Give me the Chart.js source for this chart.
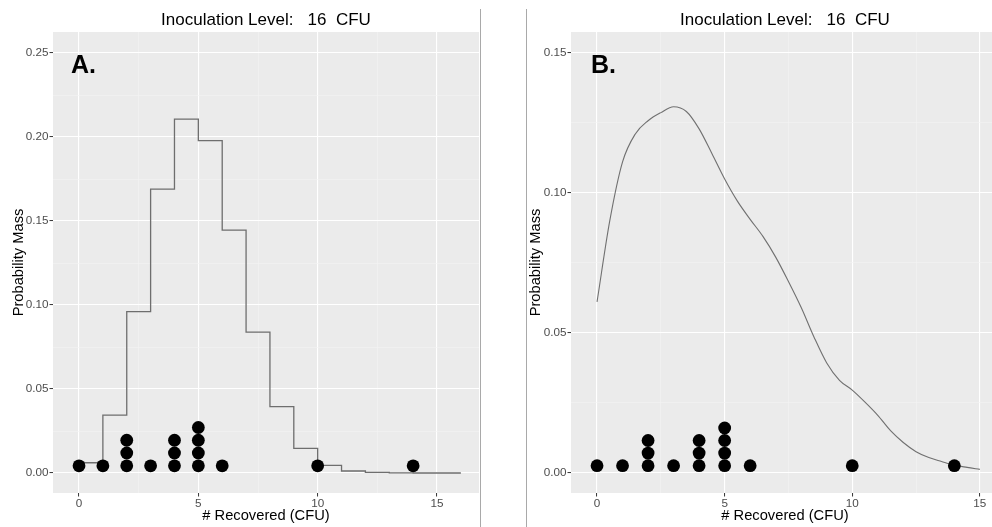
<!DOCTYPE html>
<html>
<head>
<meta charset="utf-8">
<script src="https://cdn.jsdelivr.net/npm/chart.js@4.4.1/dist/chart.umd.min.js"></script>
<style>
  html, body { margin: 0; padding: 0; width: 992px; height: 527px; overflow: hidden; background: #fff; }
  canvas { position: absolute; top: 0; }
  .sep { position: absolute; top: 9px; width: 1px; height: 518px; background: #a9a9a9; }
  .tag { position: absolute; top: 52px; font: bold 25px/25px 'Liberation Sans', Arial, sans-serif; color: #000; }
</style>
</head>
<body>
<canvas id="chartA" width="480" height="527" style="left:0"></canvas>
<canvas id="chartB" width="472" height="527" style="left:527px"></canvas>
<div class="sep" style="left:480px"></div>
<div class="sep" style="left:526px"></div>
<div class="tag" style="left:71px">A.</div>
<div class="tag" style="left:591px">B.</div>
<script>
// values
const titleText = 'Inoculation Level:   16  CFU';
const xTitle = '# Recovered (CFU)';
const yTitle = 'Probability Mass';

// observed recoveries (one dot each)
const recovered = [0, 1, 2, 2, 2, 3, 4, 4, 4, 5, 5, 5, 5, 6, 10, 14];

// panel A: step probability mass
const stepX = [0, 1, 2, 3, 4, 5, 6, 7, 8, 9, 10, 11, 12, 13, 14, 15, 16];
const stepMass = [0.0061, 0.0345, 0.096, 0.169, 0.2107, 0.1978, 0.1446, 0.0839, 0.0395, 0.0147,
                  0.0046, 0.0012, 0.0004, 0.0001, 0, 0, 0];

// panel B: smooth density
const densX = [0, 0.5, 1, 1.5, 2, 2.5, 3, 3.5, 4, 4.5, 5, 5.5, 6, 6.5, 7, 7.5, 8, 8.5, 9, 9.5,
               10, 10.5, 11, 11.5, 12, 12.5, 13, 13.5, 14, 14.5, 15];
const densMass = [0.061, 0.090, 0.111, 0.121, 0.1257, 0.1286, 0.1307, 0.129, 0.1228, 0.114,
                  0.1049, 0.097, 0.0905, 0.0844, 0.077, 0.0683, 0.059, 0.0485, 0.0392, 0.033,
                  0.0295, 0.0252, 0.0205, 0.015, 0.0108, 0.0075, 0.0054, 0.004, 0.0027, 0.0019, 0.0012];

// tick labels
const xTicks = [0, 5, 10, 15];
const yTicksA = [0, 0.05, 0.10, 0.15, 0.20, 0.25];
const yTicksB = [0, 0.05, 0.10, 0.15];

Chart.defaults.font.family = "'Liberation Sans', Arial, sans-serif";

function withMinor(majors) {
    const out = [];
    majors.forEach((v, i) => {
        out.push(v);
        if (i < majors.length - 1) out.push((v + majors[i + 1]) / 2);
    });
    return out;
}

function isMajor(majors, v) {
    return majors.some(m => Math.abs(m - v) < 1e-9);
}

// dotplot stacking
function stackDots(values, base, step) {
    const seen = {};
    return values.map(v => {
        const k = seen[v] || 0;
        seen[v] = k + 1;
        return { x: v, y: base + k * step };
    });
}

// grey panel background
const panelBg = {
    id: 'panelBg',
    beforeDraw(chart) {
        const a = chart.chartArea;
        chart.ctx.save();
        chart.ctx.fillStyle = '#ebebeb';
        chart.ctx.fillRect(a.left, a.top, a.right - a.left, a.bottom - a.top);
        chart.ctx.restore();
    }
};

function axis(majors, min, max, axisWidth, fmt, title, titlePad) {
    const horiz = axisWidth === null;
    return {
        type: 'linear', min: min, max: max,
        afterBuildTicks: s => { s.ticks = withMinor(majors).filter(v => v >= min && v <= max).map(v => ({ value: v })); },
        afterFit: s => { if (horiz) s.height = 34; else s.width = axisWidth; },
        border: { display: false },
        grid: {
            color: c => isMajor(majors, c.tick.value) ? '#ffffff' : '#f3f3f3',
            lineWidth: c => isMajor(majors, c.tick.value) ? 1.1 : 0.6,
            tickLength: 3.5,
            tickColor: c => isMajor(majors, c.tick.value) ? '#333333' : 'rgba(0,0,0,0)',
            tickWidth: 1
        },
        ticks: {
            autoSkip: false, maxRotation: 0,
            color: '#4d4d4d', font: { size: 11.7 }, padding: horiz ? 0.5 : 1,
            callback: v => isMajor(majors, v) ? fmt(v) : ''
        },
        title: { display: true, text: title, color: '#000', font: { size: 14.7 }, padding: titlePad }
    };
}

function makePanel(id, lineSet, yMajors, yMin, yMax, xMin, xMax, yAxisWidth, yTitlePad, rightPad, dotBase, dotStep) {
    new Chart(document.getElementById(id), {
        type: 'scatter',
        data: {
            datasets: [
                { type: 'scatter', data: stackDots(recovered, dotBase, dotStep),
                  pointRadius: 6.4, pointHoverRadius: 6.4, backgroundColor: '#000', borderWidth: 0 },
                lineSet
            ]
        },
        options: {
            responsive: false, animation: false,
            layout: { autoPadding: false, padding: { left: 0, right: rightPad, top: 0, bottom: 0 } },
            plugins: {
                legend: { display: false }, tooltip: { enabled: false },
                title: { display: true, text: titleText, fullSize: false, color: '#000',
                         font: { size: 17, weight: 'normal' }, padding: { top: 9.8, bottom: 1.8 } }
            },
            scales: {
                x: axis(xTicks, xMin, xMax, null, v => String(v), xTitle, { top: 0, bottom: 2 }),
                y: axis(yMajors, yMin, yMax, yAxisWidth, v => v.toFixed(2), yTitle, { top: yTitlePad, bottom: 0 })
            }
        },
        plugins: [panelBg]
    });
}

makePanel('chartA', {
    type: 'line', data: stepX.map((x, i) => ({ x: x, y: stepMass[i] })),
    stepped: 'before', borderColor: '#6e6e6e', borderWidth: 1.3, pointRadius: 0, fill: false
}, yTicksA, -0.0119, 0.2625, -1.09, 16.76, 53, 10.6, 1, 0.0043, 0.0076);

makePanel('chartB', {
    type: 'line', data: densX.map((x, i) => ({ x: x, y: densMass[i] })),
    cubicInterpolationMode: 'monotone', borderColor: '#707070', borderWidth: 1.1, pointRadius: 0, fill: false
}, yTicksB, -0.00725, 0.1574, -1.02, 15.75, 44, 0.6, 0, 0.0025, 0.0045);
</script>
</body>
</html>
